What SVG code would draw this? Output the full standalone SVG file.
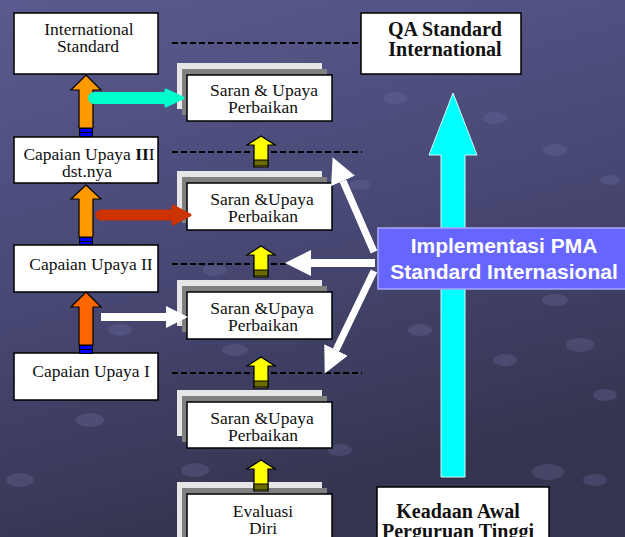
<svg xmlns="http://www.w3.org/2000/svg" width="625" height="537" viewBox="0 0 625 537">
<defs>
<linearGradient id="bg" x1="0" y1="0" x2="0.3" y2="1">
<stop offset="0" stop-color="#5a5a8e"/>
<stop offset="0.5" stop-color="#494977"/>
<stop offset="1" stop-color="#34344f"/>
</linearGradient>
<marker id="wh" markerUnits="userSpaceOnUse" markerWidth="26" markerHeight="26" viewBox="0 0 26 26" refX="0" refY="13" orient="auto">
<path d="M0,0 L26,13 L0,26 Z" fill="#ffffff"/>
</marker>
<g id="yarrow">
<path d="M0,0 L14,9 L7,9 L7,31 L-7,31 L-7,9 L-14,9 Z" fill="#ffff00" stroke="#000" stroke-width="1.2"/>
<rect x="-7" y="24" width="14" height="6" fill="#6b6b00" stroke="#000" stroke-width="1"/>
</g>
</defs>
<style>
.box{fill:#fff;stroke:#000;stroke-width:1.5}
.lg{fill:#e6e6e6}
.dg{fill:#808080}
.t{font-family:"Liberation Serif","Times New Roman",serif;font-size:17.5px;fill:#111;text-anchor:middle}
.tb{font-family:"Liberation Serif","Times New Roman",serif;font-size:20px;font-weight:bold;fill:#111;text-anchor:middle}
.ts{font-family:"Liberation Sans",Arial,sans-serif;font-size:21px;font-weight:bold;fill:#fff;text-anchor:middle}
.dash{stroke:#000;stroke-width:2;stroke-dasharray:6 3;fill:none}
.ob{stroke:#000;stroke-width:1.2}
.stripe{fill:#000}
.blue{fill:#0000ee}
.bgd{fill:#6a6a9c;opacity:0.35}
</style>
<rect x="0" y="0" width="625" height="537" fill="url(#bg)"/>
<g id="texture">
<ellipse class="bgd" cx="555" cy="300" rx="13" ry="6"/>
<ellipse class="bgd" cx="580" cy="345" rx="14" ry="7"/>
<ellipse class="bgd" cx="605" cy="395" rx="12" ry="6"/>
<ellipse class="bgd" cx="548" cy="472" rx="16" ry="8"/>
<ellipse class="bgd" cx="595" cy="480" rx="12" ry="6"/>
<ellipse class="bgd" cx="420" cy="330" rx="12" ry="6"/>
<ellipse class="bgd" cx="505" cy="360" rx="12" ry="6"/>
<ellipse class="bgd" cx="395" cy="98" rx="12" ry="6"/>
<ellipse class="bgd" cx="495" cy="118" rx="12" ry="6"/>
<ellipse class="bgd" cx="555" cy="150" rx="12" ry="6"/>
<ellipse class="bgd" cx="610" cy="180" rx="10" ry="5"/>
<ellipse class="bgd" cx="360" cy="185" rx="11" ry="5"/>
<ellipse class="bgd" cx="215" cy="270" rx="12" ry="6"/>
<ellipse class="bgd" cx="235" cy="350" rx="13" ry="6"/>
<ellipse class="bgd" cx="90" cy="420" rx="14" ry="7"/>
<ellipse class="bgd" cx="20" cy="480" rx="14" ry="7"/>
<ellipse class="bgd" cx="195" cy="470" rx="14" ry="7"/>
<ellipse class="bgd" cx="340" cy="450" rx="12" ry="6"/>
<ellipse class="bgd" cx="120" cy="330" rx="12" ry="6"/>
</g>
<g id="connectors">
<line class="dash" x1="172" y1="43" x2="361" y2="43"/>
<line class="dash" x1="172" y1="152" x2="362" y2="152"/>
<line class="dash" x1="172" y1="264" x2="362" y2="264"/>
<line class="dash" x1="172" y1="373" x2="362" y2="373"/>
</g>
<g id="node-intl">
<rect class="box" x="14" y="13" width="144" height="61"/>
<text class="t" x="89" y="35">International</text>
<text class="t" x="88" y="52">Standard</text>
</g>
<g id="node-cap3">
<rect class="box" x="14" y="137" width="144" height="46"/>
<text class="t" x="89" y="160">Capaian Upaya <tspan font-weight="bold">II</tspan>I</text>
<text class="t" x="87" y="177">dst.nya</text>
</g>
<g id="node-cap2">
<rect class="box" x="14" y="245" width="144" height="47"/>
<text class="t" x="91" y="270">Capaian Upaya II</text>
</g>
<g id="node-cap1">
<rect class="box" x="14" y="353" width="144" height="47"/>
<text class="t" x="91" y="377">Capaian Upaya I</text>
</g>
<g id="node-saran1">
<rect class="lg" x="177" y="63" width="145" height="46"/>
<rect class="dg" x="182" y="69" width="145" height="46"/>
<rect class="box" x="187" y="75" width="145" height="46"/>
<text class="t" x="264" y="96">Saran &amp; Upaya</text>
<text class="t" x="263" y="113">Perbaikan</text>
</g>
<g id="node-saran2">
<rect class="lg" x="177" y="171" width="145" height="46"/>
<rect class="dg" x="182" y="177" width="145" height="46"/>
<rect class="box" x="187" y="183" width="145" height="47"/>
<text class="t" x="262" y="205">Saran &amp;Upaya</text>
<text class="t" x="263" y="222">Perbaikan</text>
</g>
<g id="node-saran3">
<rect class="lg" x="177" y="280" width="145" height="46"/>
<rect class="dg" x="182" y="286" width="145" height="46"/>
<rect class="box" x="187" y="292" width="145" height="47"/>
<text class="t" x="262" y="314">Saran &amp;Upaya</text>
<text class="t" x="263" y="331">Perbaikan</text>
</g>
<g id="node-saran4">
<rect class="lg" x="177" y="390" width="145" height="46"/>
<rect class="dg" x="182" y="396" width="145" height="46"/>
<rect class="box" x="187" y="402" width="145" height="46"/>
<text class="t" x="262" y="424">Saran &amp;Upaya</text>
<text class="t" x="263" y="441">Perbaikan</text>
</g>
<g id="node-evaluasi">
<rect class="lg" x="177" y="482" width="145" height="60"/>
<rect class="dg" x="182" y="488" width="145" height="60"/>
<rect class="box" x="187" y="494" width="145" height="50"/>
<text class="t" x="263" y="517">Evaluasi</text>
<text class="t" x="263" y="534">Diri</text>
</g>
<g id="node-qa">
<rect class="box" x="361" y="13" width="160" height="61"/>
<text class="tb" x="445" y="36">QA Standard</text>
<text class="tb" x="445" y="56">International</text>
</g>
<g id="big-arrow">
<path d="M453,93 L477,155 L465,155 L465,477 L441,477 L441,155 L429,155 Z" fill="#00ffff" stroke="#d0ffff" stroke-width="1"/>
</g>
<g id="node-keadaan">
<rect class="box" x="377" y="487" width="172" height="60"/>
<text class="tb" x="458" y="518">Keadaan Awal</text>
<text class="tb" x="458" y="538">Perguruan Tinggi</text>
</g>
<g id="node-implementasi">
<rect x="378" y="228" width="252" height="61" fill="#6666ff" stroke="#a8a8ff" stroke-width="1.5"/>
<text class="ts" x="504" y="253">Implementasi PMA</text>
<text class="ts" x="504" y="279">Standard Internasional</text>
</g>
<g id="arrows">
<path d="M86,75 L101,90 L93,90 L93,128 L79,128 L79,90 L71,90 Z" fill="#ff9900" class="ob"/>
<rect class="stripe" x="79" y="128" width="14" height="9"/>
<rect class="blue" x="80" y="129" width="12" height="3"/>
<rect class="blue" x="80" y="133" width="12" height="3"/>
<path d="M86,185 L101,199 L93,199 L93,237 L79,237 L79,199 L71,199 Z" fill="#ff9900" class="ob"/>
<rect class="stripe" x="79" y="237" width="14" height="8"/>
<rect class="blue" x="80" y="238" width="12" height="3"/>
<rect class="blue" x="80" y="242" width="12" height="2"/>
<path d="M86,292 L101,307 L93,307 L93,345 L79,345 L79,307 L71,307 Z" fill="#ff6600" class="ob"/>
<rect class="stripe" x="79" y="345" width="14" height="9"/>
<rect class="blue" x="80" y="346" width="12" height="3"/>
<rect class="blue" x="80" y="350" width="12" height="3"/>
<line x1="94" y1="98" x2="170" y2="98" stroke="#00ffcc" stroke-width="12" stroke-linecap="round"/>
<path d="M166,90 L183,98 L166,106 Z" fill="#00ffcc" stroke="#00ffcc" stroke-width="3" stroke-linejoin="round"/>
<line x1="101" y1="215" x2="176" y2="215" stroke="#cc3300" stroke-width="11" stroke-linecap="round"/>
<path d="M173,206 L190,215 L173,224 Z" fill="#cc3300" stroke="#cc3300" stroke-width="3" stroke-linejoin="round"/>
<line x1="101" y1="317" x2="168" y2="317" stroke="#ffffff" stroke-width="8"/>
<path d="M166,306 L188,317 L166,328 Z" fill="#ffffff"/>
<use href="#yarrow" x="261" y="136"/>
<use href="#yarrow" x="261" y="246"/>
<use href="#yarrow" x="261" y="357"/>
<use href="#yarrow" x="261" y="460"/>
<line x1="374" y1="252" x2="343" y2="181" stroke="#fff" stroke-width="7" marker-end="url(#wh)"/>
<line x1="375" y1="263" x2="311" y2="263" stroke="#fff" stroke-width="8" marker-end="url(#wh)"/>
<line x1="374" y1="271" x2="336" y2="350" stroke="#fff" stroke-width="7" marker-end="url(#wh)"/>
</g>
</svg>
